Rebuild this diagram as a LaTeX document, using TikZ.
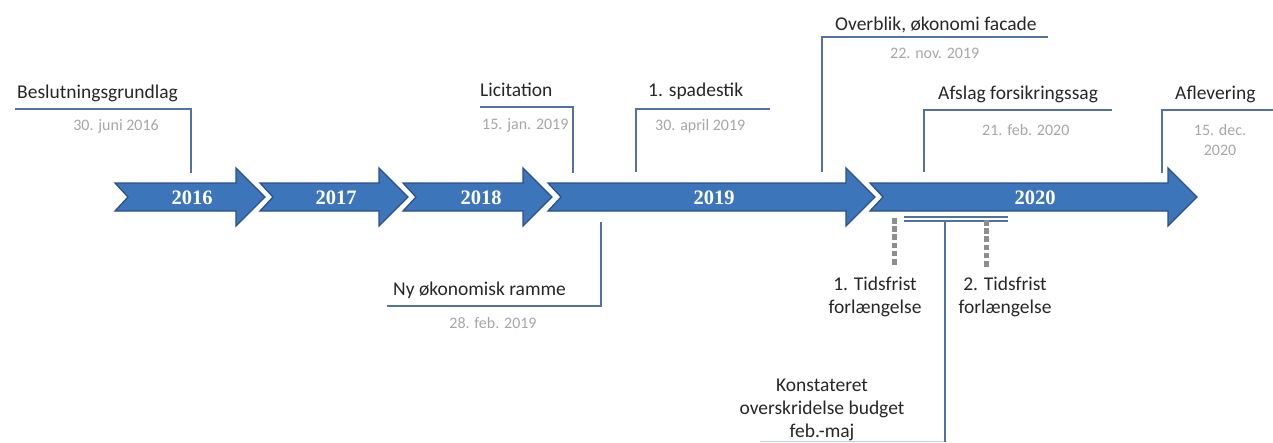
\documentclass[tikz,border=0pt]{standalone}
\usepackage{fontspec}
\setmainfont{Carlito}
\newfontfamily\yearfont{Liberation Serif}
\definecolor{arrfill}{HTML}{3D75BB}
\definecolor{arrdraw}{HTML}{2B5187}
\definecolor{conncol}{HTML}{52739F}
\definecolor{titlecol}{HTML}{262626}
\definecolor{datecol}{HTML}{A6A6A6}
\definecolor{dotcol}{HTML}{8E8E8E}
\newcommand\yeararrow[2]{%
  \pgfmathsetmacro\hb{#2-29}\pgfmathsetmacro\nt{#1+13}%
  \path[yarrow] (#1,183) -- (\hb,183) -- (\hb,168) -- (#2,197) -- (\hb,226) -- (\hb,211) -- (#1,211) -- (\nt,197) -- cycle;}
\begin{document}
\begin{tikzpicture}[x=1pt,y=-1pt,
  yarrow/.style={fill=arrfill, draw=arrdraw, line width=1.3, line join=miter,
    preaction={draw=white, line width=5}},
  year/.style={text=white, inner sep=0, font=\yearfont\bfseries\fontsize{20.5}{20.5}\selectfont},
  title/.style={inner sep=0, text=titlecol, font=\fontsize{19.5}{23}\selectfont},
  date/.style={inner sep=0, text=datecol, font=\fontsize{16}{20}\selectfont},
  low/.style={inner sep=0, text=titlecol, align=center, font=\fontsize{19.5}{23}\selectfont},
  conn/.style={draw=conncol, line width=1.1},
  dots/.style={draw=dotcol, line width=5, dash pattern=on 5.5 off 2.7}]
\useasboundingbox (0,0) rectangle (1273,442);
% arrows
\yeararrow{115}{265}
\yeararrow{260}{408}
\yeararrow{403}{552}
\yeararrow{548}{875}
\yeararrow{870}{1197}
\node[year] (y2016) at (192,198) {2016};
\node[year] (y2017) at (336,198) {2017};
\node[year] (y2018) at (481,198) {2018};
\node[year] (y2019) at (714,198) {2019};
\node[year] (y2020) at (1035,198) {2020};
% top milestones
\node[title, anchor=base west] (t1) at (17,98) {Beslutningsgrundlag};
\node[date, anchor=base east] (d1) at (159,130) {30. juni 2016};
\coordinate (c1a) at (15,109); \coordinate (c1b) at (191,173);
\draw[conn] (c1a) -| (c1b);

\node[title, anchor=base west] (t2) at (480,96) {Licitation};
\node[date, anchor=base west] (d2) at (482,129) {15. jan. 2019};
\coordinate (c2a) at (480,107); \coordinate (c2b) at (573,173);
\draw[conn] (c2a) -| (c2b);

\node[title, anchor=base west] (t3) at (648,96) {1. spadestik};
\node[date, anchor=base west] (d3) at (655,130) {30. april 2019};
\coordinate (c3a) at (770,109); \coordinate (c3b) at (636,172);
\draw[conn] (c3a) -| (c3b);

\node[title, anchor=base west] (t4) at (835,30) {Overblik, økonomi facade};
\node[date, anchor=base west] (d4) at (890,58) {22. nov. 2019};
\coordinate (c4a) at (1048,37); \coordinate (c4b) at (822,172);
\draw[conn] (c4a) -| (c4b);

\node[title, anchor=base west] (t5) at (938,99) {Afslag forsikringssag};
\node[date, anchor=base west] (d5) at (982,135) {21. feb. 2020};
\coordinate (c5a) at (1112,110); \coordinate (c5b) at (924,172);
\draw[conn] (c5a) -| (c5b);

\node[title, anchor=base west] (t6) at (1175,99) {Aflevering};
\node[date, anchor=base] (d6a) at (1220,135) {15. dec.};
\node[date, anchor=base] (d6b) at (1220,155) {2020};
\coordinate (c6a) at (1273,110); \coordinate (c6b) at (1162,173);
\draw[conn] (c6a) -| (c6b);

% bottom milestones
\node[title, anchor=base west] (t7) at (393,295) {Ny økonomisk ramme};
\node[date, anchor=base] (d7) at (493,328) {28. feb. 2019};
\coordinate (c7a) at (387,306); \coordinate (c7b) at (601,222);
\draw[conn] (c7a) -| (c7b);

\coordinate (p1a) at (904,217); \coordinate (p1b) at (1008,217);
\coordinate (p2a) at (904,221); \coordinate (p2b) at (1008,221);
\draw[conn] (p1a) -- (p1b);
\draw[conn] (p2a) -- (p2b);
\coordinate (k1) at (945,221); \coordinate (k2) at (945,442);
\draw[conn] (k1) -- (k2);
\coordinate (k3) at (760,441.5);
\draw[conn, opacity=0.35] (k3) -- (945,441.5);

\node[low] (f1) at (875,297) {1. Tidsfrist\\forlængelse};
\node[low] (f2) at (1005,297) {2. Tidsfrist\\forlængelse};
\coordinate (s1) at (894,218); \coordinate (s2) at (986,220);
\draw[dots] (s1) -- (894,267);
\draw[dots] (s2) -- (986,267);

\node[low] (kb) at (822,410) {Konstateret\\overskridelse budget\\feb.-maj};
\end{tikzpicture}
\end{document}
